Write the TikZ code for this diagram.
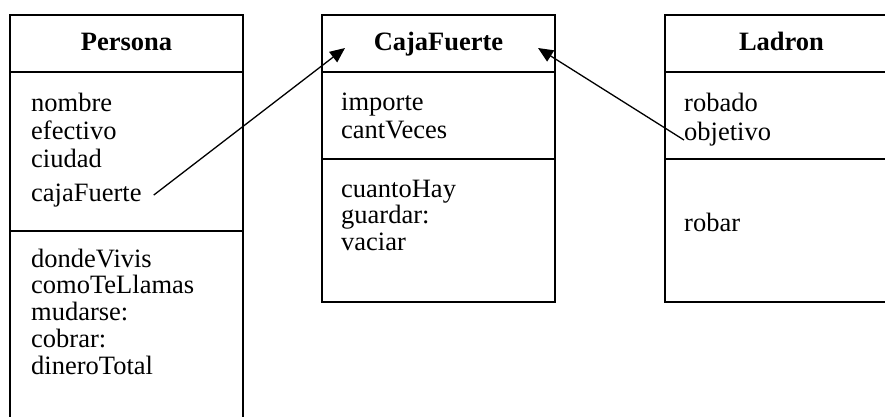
\documentclass[tikz,border=0pt]{standalone}
\usepackage{fontspec}
\setmainfont{Liberation Serif}
\usetikzlibrary{arrows.meta,positioning}

\begin{document}
\begin{tikzpicture}[
  x=1pt,y=-1pt,
  every node/.style={font=\fontsize{26.5}{28}\selectfont},
  head/.style={draw,line width=1.6pt,outer sep=0pt,anchor=north west,minimum width=233pt,minimum height=57pt,text height=18pt,text depth=5pt,font=\fontsize{26.5}{28}\selectfont\bfseries},
  part/.style={draw,line width=1.6pt,outer sep=0pt,anchor=north west,minimum width=233pt},
  item/.style={anchor=base west,align=left,inner sep=0pt},
  meth/.style={item,font=\fontsize{26.5}{26.75}\selectfont},
  arr/.style={-{Triangle[length=15pt,width=13pt]},line width=1.3pt}
]
\useasboundingbox (0,0) rectangle (885,416);
\clip (0,0) rectangle (885,416);

% Persona (base = last line)
\node[head] (persona) at (10,15) {Persona};
\node[part,minimum height=159pt] (persona-at) at (persona.south west) {};
\node[part,minimum height=220pt] (persona-me) at (persona-at.south west) {};
\node[item] (persona-a) at (31,167) {nombre\\efectivo\\ciudad};
\node[item] (persona-caja) at (31,201) {cajaFuerte};
\node[meth] (persona-m) at (31,374) {dondeVivis\\comoTeLlamas\\mudarse:\\cobrar:\\dineroTotal};

% CajaFuerte
\node[head] (caja) at (322,15) {CajaFuerte};
\node[part,minimum height=87pt] (caja-at) at (caja.south west) {};
\node[part,minimum height=143pt] (caja-me) at (caja-at.south west) {};
\node[item] (caja-a) at (341,138) {importe\\cantVeces};
\node[meth] (caja-m) at (341,250.5) {cuantoHay\\guardar:\\vaciar};

% Ladron
\node[head] (ladron) at (665,15) {Ladron};
\node[part,minimum height=87pt] (ladron-at) at (ladron.south west) {};
\node[part,minimum height=143pt] (ladron-me) at (ladron-at.south west) {};
\node[item] (ladron-rob) at (684,111) {robado};
\node[item] (ladron-obj) at (684,140) {objetivo};
\node[item] (ladron-m) at (684,231) {robar};

% referencias
\coordinate (caja-in1) at (345,48);
\coordinate (caja-in2) at (538,48);
\draw[arr] ([xshift=12pt]persona-caja.east) -- (caja-in1);
\draw[arr] (ladron-obj.base west) -- (caja-in2);
\end{tikzpicture}
\end{document}
